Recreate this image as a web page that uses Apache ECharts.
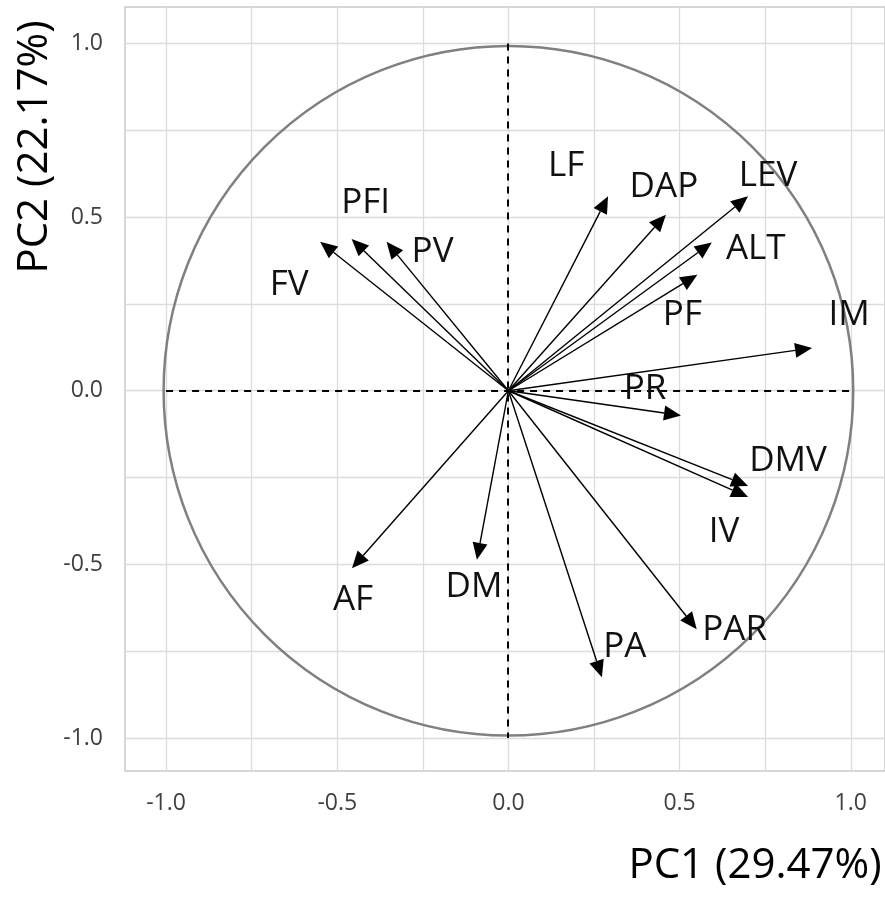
<!DOCTYPE html>
<html>
<head>
<meta charset="utf-8">
<script src="https://cdn.jsdelivr.net/npm/echarts@6/dist/echarts.min.js"></script>
<style>
  html, body { margin: 0; padding: 0; background: #ffffff; }
  #chart { width: 885px; height: 901px; }
</style>
</head>
<body>
<div id="chart"></div>
<script>
// Variable loadings on the first two principal components
const variables = ['LF', 'DAP', 'LEV', 'ALT', 'PF', 'IM', 'PR', 'DMV', 'IV', 'PAR', 'PA', 'DM', 'AF', 'FV', 'PFI', 'PV'];
const pc1 = [0.291, 0.460, 0.700, 0.594, 0.552, 0.887, 0.504, 0.700, 0.700, 0.550, 0.273, -0.092, -0.457, -0.550, -0.458, -0.356];
const pc2 = [0.560, 0.507, 0.560, 0.427, 0.334, 0.123, -0.071, -0.274, -0.306, -0.687, -0.825, -0.487, -0.511, 0.429, 0.437, 0.429];

// Axis ticks, labels and grid positions
const tickLabels = [-1.0, -0.5, 0.0, 0.5, 1.0];
const gridValues = [-1.0, -0.75, -0.5, -0.25, 0.0, 0.25, 0.5, 0.75, 1.0];
const axisTitleX = 'PC1 (29.47%)';
const axisTitleY = 'PC2 (22.17%)';
// Correlation circle radius
const circleRadius = [1];

// Placement of each variable name relative to its arrow tip (pixels)
const labelOffset = {
  LF: [-42, -30], DAP: [-2, -28], LEV: [20, -20], ALT: [44, 7], PF: [-15, 40],
  IM: [37, -33], PR: [-36, -26], DMV: [40, -25], IV: [-24, 35], PAR: [38, 1],
  PA: [23, -30], DM: [-3, 27], AF: [1, 32], FV: [-31, 43], PFI: [14, -36], PV: [46, 10]
};

const FONT = '"Open Sans", "Noto Sans", sans-serif';
const arrowData = variables.map((name, i) => [pc1[i], pc2[i]]);

const chart = echarts.init(document.getElementById('chart'), null, { renderer: 'canvas' });

const option = {
  animation: false,
  backgroundColor: '#ffffff',
  grid: {
    left: 125, right: -3, top: 7, bottom: 130,
    show: true, borderColor: '#c9c9c9', borderWidth: 1.5, backgroundColor: 'transparent'
  },
  xAxis: {
    type: 'value', min: -1.12, max: 1.1,
    axisLine: { show: false },
    splitLine: { show: false },
    axisTick: { show: true, customValues: gridValues, length: 5, lineStyle: { color: '#d0d0d0', width: 1.3 } },
    axisLabel: {
      customValues: tickLabels, margin: 21, color: '#404040',
      fontFamily: FONT, fontSize: 23, formatter: v => v.toFixed(1)
    }
  },
  yAxis: {
    type: 'value', min: -1.095, max: 1.105,
    axisLine: { show: false },
    splitLine: { show: false },
    axisTick: { show: false },
    axisLabel: {
      customValues: tickLabels, margin: 22, color: '#404040',
      fontFamily: FONT, fontSize: 23, formatter: v => v.toFixed(1)
    }
  },
  graphic: [
    {
      type: 'text', x: 35, y: 147, rotation: Math.PI / 2,
      style: { text: axisTitleY, fontFamily: FONT, fontSize: 42, fill: '#000', align: 'center', verticalAlign: 'middle' }
    },
    {
      type: 'text', x: 755, y: 866,
      style: { text: axisTitleX, fontFamily: FONT, fontSize: 42, fill: '#000', align: 'center', verticalAlign: 'middle' }
    }
  ],
  series: [
    {
      // light grid lines at quarter steps
      type: 'line', data: [], silent: true, z: 1,
      markLine: {
        silent: true, symbol: 'none', label: { show: false },
        lineStyle: { color: '#dcdcdc', width: 1.3, type: 'solid' },
        data: gridValues.map(v => ({ xAxis: v })).concat(gridValues.map(v => ({ yAxis: v })))
      }
    },
    {
      // correlation circle and dashed reference axes
      type: 'custom', z: 10, silent: true,
      data: circleRadius.map(r => [0, 0, r]),
      renderItem: (params, api) => {
        const c = api.coord([api.value(0), api.value(1)]);
        const r = api.value(2);
        const left = api.coord([-r, 0]), right = api.coord([r, 0]);
        const top = api.coord([0, r]), bottom = api.coord([0, -r]);
        const rad = ((right[0] - left[0]) + (bottom[1] - top[1])) / 4;
        const cy = Math.round(c[1]), cx = Math.round(c[0]);
        return {
          type: 'group',
          children: [
            { type: 'circle', shape: { cx: c[0], cy: c[1], r: rad }, style: { fill: 'none', stroke: '#808080', lineWidth: 2.5 } },
            { type: 'line', shape: { x1: left[0], y1: cy, x2: right[0], y2: cy }, style: { stroke: '#000', lineWidth: 2, lineDash: [7, 6] } },
            { type: 'line', shape: { x1: cx, y1: top[1], x2: cx, y2: bottom[1] }, style: { stroke: '#000', lineWidth: 2, lineDash: [7, 6] } }
          ]
        };
      }
    },
    {
      // loading vectors with arrowheads and variable names
      type: 'custom', z: 20, silent: true,
      data: arrowData,
      renderItem: (params, api) => {
        const name = variables[params.dataIndex];
        const o = api.coord([0, 0]);
        const t = api.coord([api.value(0), api.value(1)]);
        const dx = t[0] - o[0], dy = t[1] - o[1];
        const len = Math.hypot(dx, dy);
        const ux = dx / len, uy = dy / len;
        const hl = 17, hw = 7.5;
        const bx = t[0] - ux * hl, by = t[1] - uy * hl;
        const off = labelOffset[name];
        return {
          type: 'group',
          children: [
            { type: 'line', shape: { x1: o[0], y1: o[1], x2: bx, y2: by }, style: { stroke: '#000', lineWidth: 1.4 } },
            { type: 'polygon', shape: { points: [[t[0], t[1]], [bx - uy * hw, by + ux * hw], [bx + uy * hw, by - ux * hw]] }, style: { fill: '#000' } },
            { type: 'text', x: t[0] + off[0], y: t[1] + off[1],
              style: { text: name, fontFamily: FONT, fontSize: 35, fill: '#111', align: 'center', verticalAlign: 'middle' } }
          ]
        };
      }
    }
  ]
};

chart.setOption(option);
</script>
</body>
</html>
